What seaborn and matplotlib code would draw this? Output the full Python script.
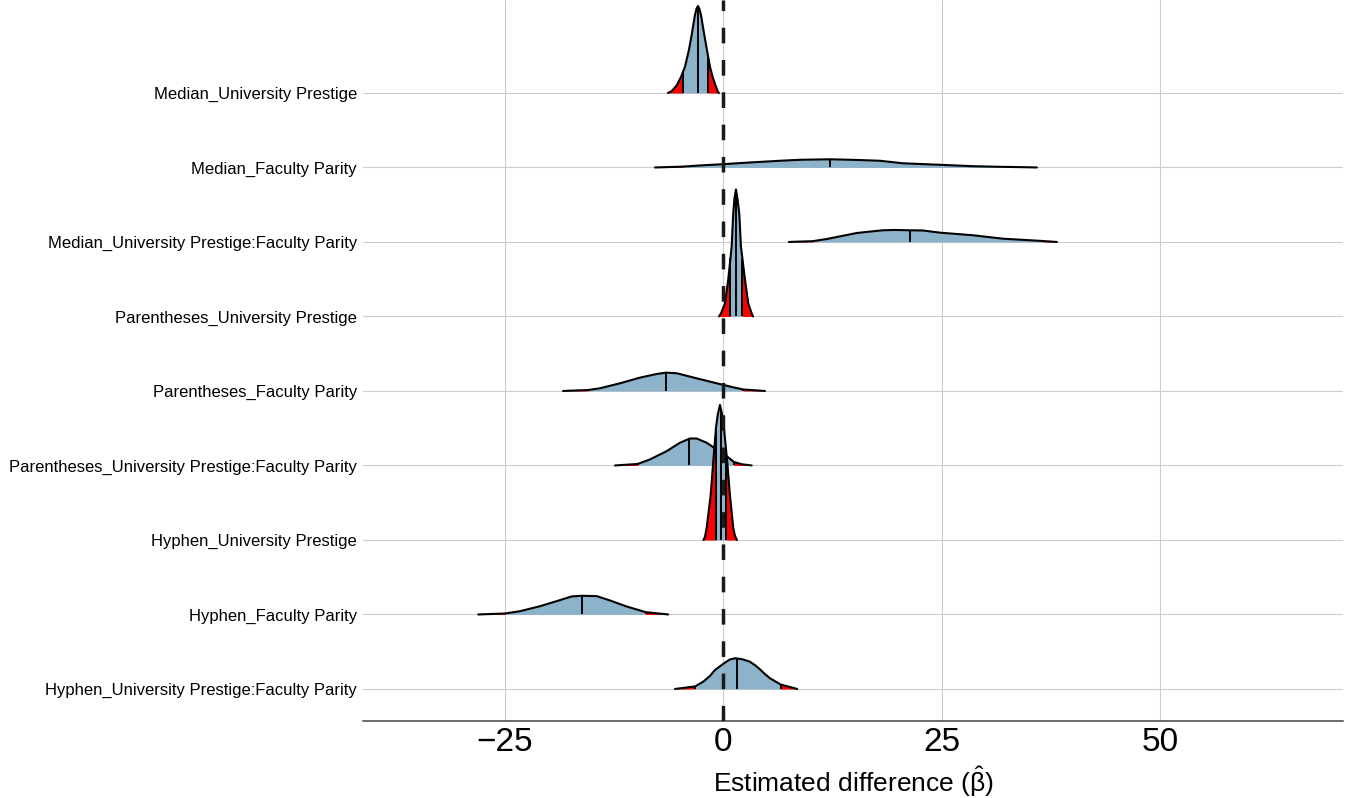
import numpy as np
import pandas as pd
import matplotlib
matplotlib.use("Agg")
import matplotlib.pyplot as plt
import seaborn as sns

# ---------------- data ----------------
labels = [
    "Median_University Prestige",
    "Median_Faculty Parity",
    "Median_University Prestige:Faculty Parity",
    "Parentheses_University Prestige",
    "Parentheses_Faculty Parity",
    "Parentheses_University Prestige:Faculty Parity",
    "Hyphen_University Prestige",
    "Hyphen_Faculty Parity",
    "Hyphen_University Prestige:Faculty Parity",
]

# density profiles: x (estimate) and ridge height (in row units)
x_med_up = [-6.35, -5.89, -5.32, -4.86, -4.41, -3.95, -3.60, -3.26, -3.09, -2.92, -2.75, -2.57, -2.23, -1.89, -1.54, -1.20, -0.97, -0.63, -0.51]
h_med_up = [0, .027, .107, .215, .349, .577, .805, 1.047, 1.128, 1.168, 1.128, 1.047, .805, .577, .349, .201, .121, .013, 0]

x_med_fp = [-7.84, -4.75, -2.69, -0.06, 3.03, 6.46, 8.75, 12.19, 15.28, 17.91, 19.39, 20.54, 24.77, 28.55, 31.64, 34.27, 35.87]
h_med_fp = [0, .011, .027, .044, .067, .090, .103, .110, .101, .090, .071, .056, .036, .017, .009, .004, 0]

x_med_int = [7.49, 10.24, 11.84, 15.28, 18.25, 19.62, 21.34, 22.83, 24.77, 28.55, 31.98, 36.56, 38.16]
h_med_int = [0, .011, .040, .121, .157, .161, .157, .154, .125, .090, .044, .013, 0]

x_par_up = [-0.51, -0.29, 0.17, 0.55, 0.94, 1.12, 1.26, 1.43, 1.60, 1.81, 2.00, 2.46, 2.84, 3.23, 3.38]
h_par_up = [0, .040, .174, .497, .940, 1.383, 1.584, 1.705, 1.584, 1.383, .940, .497, .174, .040, 0]

x_par_fp = [-18.36, -15.47, -14.13, -11.84, -9.55, -7.64, -6.58, -5.35, -3.07, -0.78, 1.09, 2.27, 4.75]
h_par_fp = [0, .013, .036, .103, .179, .228, .246, .238, .170, .103, .050, .020, 0]

x_par_int = [-12.41, -9.82, -8.41, -6.50, -4.98, -3.83, -3.07, -1.92, -0.78, 0.37, 1.20, 2.12, 3.23]
h_par_int = [0, .020, .081, .192, .305, .362, .362, .305, .215, .125, .047, .016, 0]

x_hyp_up = [-2.29, -2.12, -1.92, -1.46, -1.17, -0.86, -0.66, -0.40, -0.14, 0.06, 0.43, 0.74, 1.12, 1.32, 1.54]
h_hyp_up = [0, .040, .161, .604, 1.047, 1.503, 1.678, 1.812, 1.678, 1.503, 1.047, .604, .161, .054, 0]

x_hyp_fp = [-28.06, -25.00, -23.28, -20.99, -19.08, -17.37, -16.22, -14.51, -12.99, -11.08, -8.90, -6.32]
h_hyp_fp = [0, .013, .044, .111, .179, .242, .251, .246, .188, .107, .031, 0]

x_hyp_int = [-5.55, -3.26, -2.31, -1.54, -0.97, 0.17, 0.74, 1.32, 2.12, 3.03, 3.60, 4.18, 4.75, 5.32, 6.54, 8.44]
h_hyp_int = [0, .034, .098, .175, .255, .353, .396, .412, .400, .366, .320, .264, .200, .144, .060, 0]

# quantiles: 2.5%, 50%, 97.5%
q_low = [-4.63, -4.75, 10.24, 0.80, -15.47, -9.82, -0.86, -25.00, -3.26]
q_med = [-2.92, 12.19, 21.34, 1.43, -6.58, -3.89, -0.29, -16.22, 1.51]
q_high = [-1.77, 34.27, 36.56, 2.17, 2.27, 1.20, 0.29, -8.90, 6.54]

xs_all = [x_med_up, x_med_fp, x_med_int, x_par_up, x_par_fp, x_par_int, x_hyp_up, x_hyp_fp, x_hyp_int]
hs_all = [h_med_up, h_med_fp, h_med_int, h_par_up, h_par_fp, h_par_int, h_hyp_up, h_hyp_fp, h_hyp_int]

x_ticks = [-25, 0, 25, 50]

# ---------------- style ----------------
sns.set_theme(style="whitegrid")
plt.rcParams['font.family'] = ['Liberation Sans', 'DejaVu Sans']
plt.rcParams['mathtext.fontset'] = 'custom'
plt.rcParams['mathtext.rm'] = 'Liberation Sans'
plt.rcParams['mathtext.it'] = 'Liberation Sans:italic'

BLUE = "#8DB3CB"
RED = "#FF0000"
GRID = "#CCCCCC"

fig = plt.figure(figsize=(13.52, 7.98), dpi=100)
ax = fig.add_axes([363 / 1352, 77 / 798, 980 / 1352, 721 / 798])
ax.set_facecolor("white")

n = len(labels)
positions = [n - i for i in range(n)]  # top row = n

for i in range(n):
    x = np.asarray(xs_all[i], float)
    h = np.asarray(hs_all[i], float)
    base = positions[i]
    y = base + h
    z = 3 + i
    ax.fill_between(x, base, y, color=BLUE, lw=0, zorder=z)
    # red tails
    lo, hi = q_low[i], q_high[i]
    xl = np.concatenate([x[x < lo], [lo]])
    yl = np.interp(xl, x, y)
    ax.fill_between(xl, base, yl, color=RED, lw=0, zorder=z + 0.1)
    xr = np.concatenate([[hi], x[x > hi]])
    yr = np.interp(xr, x, y)
    ax.fill_between(xr, base, yr, color=RED, lw=0, zorder=z + 0.1)
    # quantile lines
    for q in (lo, q_med[i], hi):
        ax.plot([q, q], [base, np.interp(q, x, y)], color="black", lw=1.4,
                zorder=z + 0.2, solid_capstyle="butt")
    # outline
    df = pd.DataFrame({"x": x, "y": y})
    sns.lineplot(data=df, x="x", y="y", sort=False, estimator=None, color="black",
                 lw=1.5, ax=ax, zorder=z + 0.3)

ax.axvline(0, color="#1a1a1a", lw=2.5, dashes=(4.5, 4.8), zorder=100)

ax.set_xlim(-41.25, 70.9)
ax.set_ylim(0.57, 10.248)
ax.set_xticks(x_ticks)
ax.set_xticklabels([f"{t}".replace("-", "\u2212") for t in x_ticks])
ax.set_yticks(positions)
ax.set_yticklabels(labels)
ax.tick_params(axis="x", labelsize=24, length=0, pad=4, labelcolor="black")
ax.tick_params(axis="y", labelsize=12, length=0, pad=4.3, labelcolor="black")
ax.grid(True, color=GRID, lw=0.8)
ax.set_axisbelow(True)
for s in ["top", "left", "right"]:
    ax.spines[s].set_visible(False)
ax.spines["bottom"].set_color("#444444")
ax.spines["bottom"].set_linewidth(1.1)
ax.set_xlabel(r"Estimated difference ($\hat{\mathrm{\beta}}$)", fontsize=19,
              color="black", labelpad=5)
ax.set_ylabel("")

fig.savefig("out.png", dpi=100, facecolor="white")
